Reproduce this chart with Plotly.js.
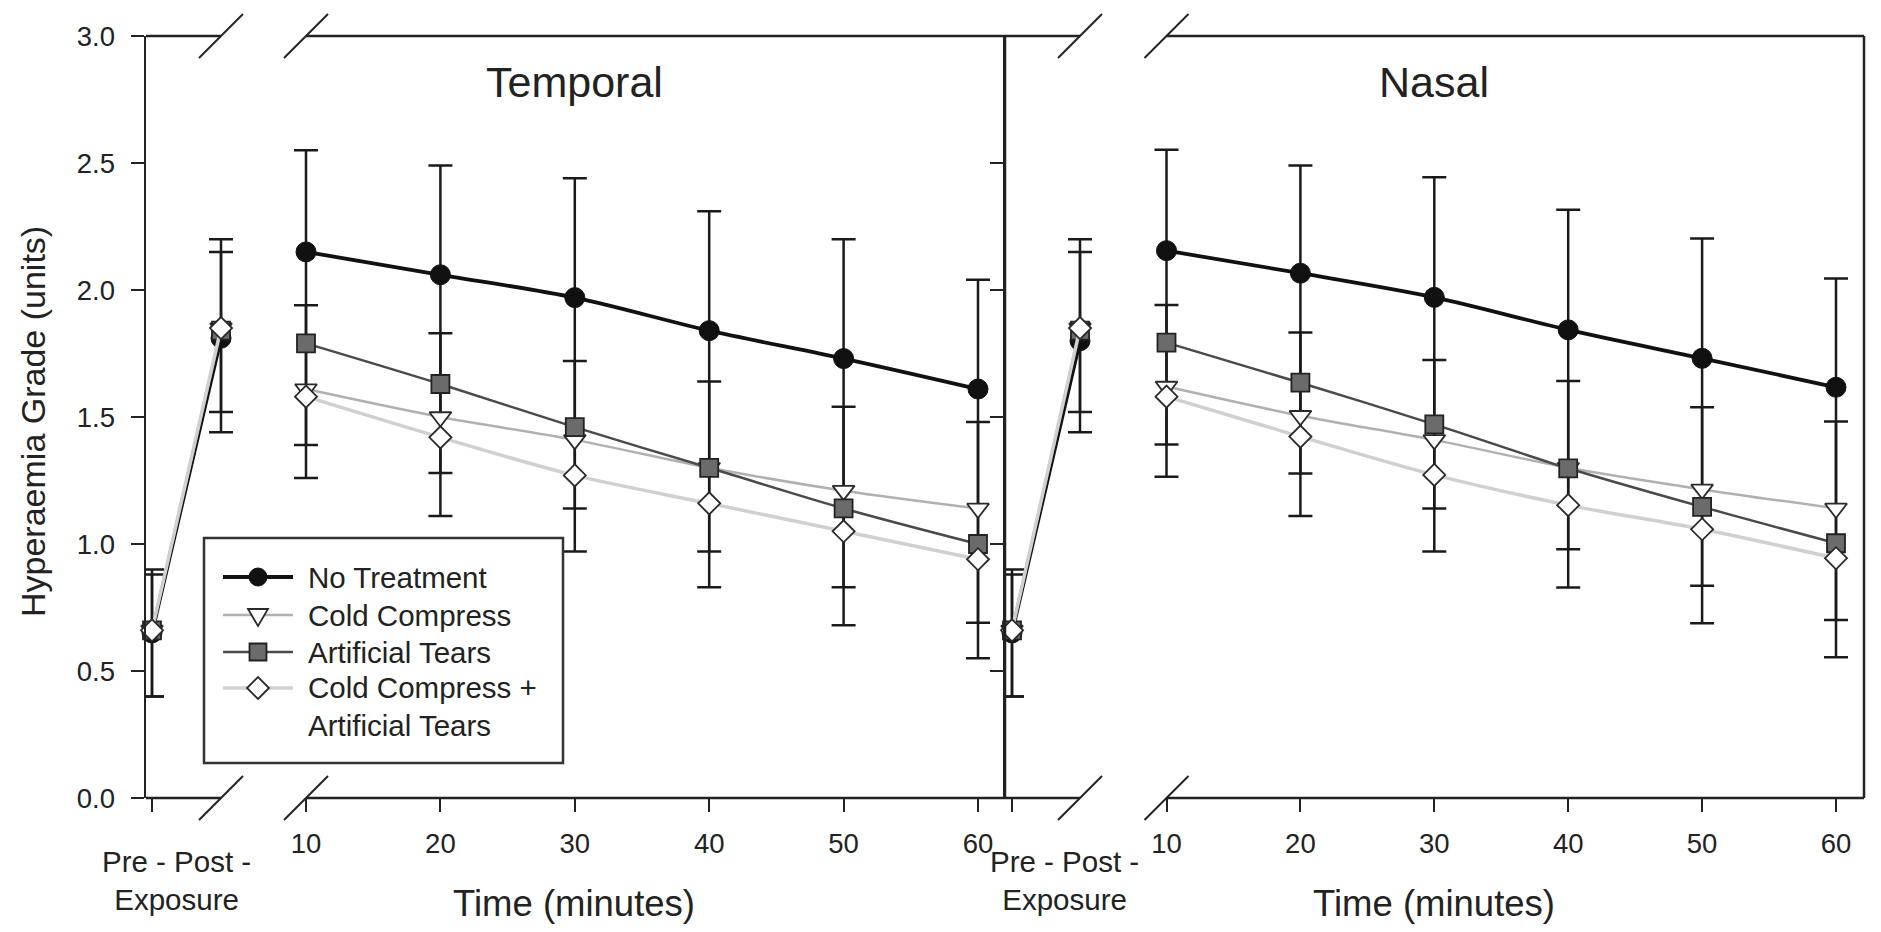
<!DOCTYPE html>
<html>
<head>
<meta charset="utf-8">
<script src="https://cdn.plot.ly/plotly-3.0.1.min.js"></script>
<style>html,body{margin:0;padding:0;background:#fff;}#chart{width:1881px;height:932px;}</style>
</head>
<body>
<div id="chart"></div>
<script>
// ---------------- DATA ----------------
const timePoints = [10, 20, 30, 40, 50, 60];
const exposureLabels = ['Pre', 'Post'];
const seriesNames = ['No Treatment', 'Cold Compress', 'Artificial Tears', 'Cold Compress +<br>Artificial Tears'];
const panelTitles = ['Temporal', 'Nasal'];
const timeAxisTitle = 'Time (minutes)';
const exposureAxisTitle = 'Pre - Post -<br>Exposure';
const yAxisTitle = 'Hyperaemia Grade (units)';

// Temporal – exposure (Pre, Post)
const temporalNoTreatmentExp = [0.65, 1.81];
const temporalColdCompressExp = [0.66, 1.85];
const temporalArtificialTearsExp = [0.66, 1.84];
const temporalCombinedExp = [0.66, 1.85];
// Temporal – recovery (10..60 min)
const temporalNoTreatment = [2.15, 2.06, 1.97, 1.84, 1.73, 1.61];
const temporalColdCompress = [1.61, 1.50, 1.41, 1.30, 1.21, 1.14];
const temporalArtificialTears = [1.79, 1.63, 1.46, 1.30, 1.14, 1.00];
const temporalCombined = [1.58, 1.42, 1.27, 1.16, 1.05, 0.94];
// Temporal – error bar ends
const temporalNoTreatmentExpHigh = [0.90, 2.20];
const temporalNoTreatmentExpLow = [0.40, 1.44];
const temporalColdCompressExpHigh = [0.88, 2.15];
const temporalColdCompressExpLow = [0.40, 1.52];
const temporalNoTreatmentHigh = [2.55, 2.49, 2.44, 2.31, 2.20, 2.04];
const temporalNoTreatmentLow = [1.39, 1.28, 1.14, 0.97, 0.83, 0.69];
const temporalArtificialTearsHigh = [1.94, 1.83, 1.72, 1.64, 1.54, 1.48];
const temporalArtificialTearsLow = [1.26, 1.11, 0.97, 0.83, 0.68, 0.55];

// Nasal – exposure (Pre, Post)
const nasalNoTreatmentExp = [0.65, 1.80];
const nasalColdCompressExp = [0.66, 1.85];
const nasalArtificialTearsExp = [0.66, 1.84];
const nasalCombinedExp = [0.66, 1.85];
// Nasal – recovery
const nasalNoTreatment = [2.155, 2.066, 1.971, 1.843, 1.731, 1.617];
const nasalColdCompress = [1.62, 1.505, 1.41, 1.30, 1.215, 1.14];
const nasalArtificialTears = [1.793, 1.635, 1.471, 1.298, 1.146, 1.003];
const nasalCombined = [1.58, 1.423, 1.272, 1.153, 1.058, 0.944];
// Nasal – error bar ends
const nasalNoTreatmentExpHigh = [0.90, 2.20];
const nasalNoTreatmentExpLow = [0.40, 1.44];
const nasalColdCompressExpHigh = [0.88, 2.15];
const nasalColdCompressExpLow = [0.40, 1.52];
const nasalNoTreatmentHigh = [2.552, 2.49, 2.444, 2.316, 2.203, 2.045];
const nasalNoTreatmentLow = [1.392, 1.278, 1.14, 0.979, 0.836, 0.701];
const nasalArtificialTearsHigh = [1.941, 1.833, 1.724, 1.642, 1.538, 1.482];
const nasalArtificialTearsLow = [1.265, 1.11, 0.97, 0.829, 0.688, 0.554];

const yTicks = [0, 0.5, 1.0, 1.5, 2.0, 2.5, 3.0];

// ---------------- LAYOUT GEOMETRY (pixels) ----------------
const FW = 1881, FH = 932;
const L = 146, R = 1864, T = 36, B = 798;
const PW = R - L, PH = B - T;
const X = px => (px - L) / PW;
const Y = py => (B - py) / PH;
const INK = '#222';
const FONT = 'Liberation Sans, Arial, Helvetica, sans-serif';

// panel pixel anchors
const panels = [
  {axisX: 146, prePx: 152, postPx: 221, expEnd: 250, timeStart: 290, t10: 306, t60: 978, frame: 1005, titleX: 574, expLabelX: 176},
  {axisX: 1005, prePx: 1012, postPx: 1080, expEnd: 1109, timeStart: 1150, t10: 1166.5, t60: 1836, frame: 1864, titleX: 1434, expLabelX: 1064}
];

const styles = [
  {line: {color: '#111', width: 3.8, shape: 'spline', smoothing: 0.9},
   marker: {symbol: 'circle', size: 20, color: '#111', line: {color: '#111', width: 1}}},
  {line: {color: '#b0b0b0', width: 2.5, shape: 'spline', smoothing: 0.9},
   marker: {symbol: 'triangle-down', size: 19, color: '#fff', line: {color: '#2a2a2a', width: 1.8}}},
  {line: {color: '#4a4a4a', width: 2.5, shape: 'spline', smoothing: 0.9},
   marker: {symbol: 'square', size: 18, color: '#6b6b6b', line: {color: '#222', width: 1.8}}},
  {line: {color: '#d0d0d0', width: 3.5, shape: 'spline', smoothing: 0.9},
   marker: {symbol: 'diamond', size: 17, color: '#fff', line: {color: '#2a2a2a', width: 1.8}}}
];

const datasets = [
  {exp: [temporalNoTreatmentExp, temporalColdCompressExp, temporalArtificialTearsExp, temporalCombinedExp],
   time: [temporalNoTreatment, temporalColdCompress, temporalArtificialTears, temporalCombined],
   errExp: [[temporalNoTreatmentExp, temporalNoTreatmentExpHigh, temporalNoTreatmentExpLow],
            [temporalColdCompressExp, temporalColdCompressExpHigh, temporalColdCompressExpLow]],
   errTime: [[temporalNoTreatment, temporalNoTreatmentHigh, temporalNoTreatmentLow],
             [temporalArtificialTears, temporalArtificialTearsHigh, temporalArtificialTearsLow]]},
  {exp: [nasalNoTreatmentExp, nasalColdCompressExp, nasalArtificialTearsExp, nasalCombinedExp],
   time: [nasalNoTreatment, nasalColdCompress, nasalArtificialTears, nasalCombined],
   errExp: [[nasalNoTreatmentExp, nasalNoTreatmentExpHigh, nasalNoTreatmentExpLow],
            [nasalColdCompressExp, nasalColdCompressExpHigh, nasalColdCompressExpLow]],
   errTime: [[nasalNoTreatment, nasalNoTreatmentHigh, nasalNoTreatmentLow],
             [nasalArtificialTears, nasalArtificialTearsHigh, nasalArtificialTearsLow]]}
];

const axisIds = [{xe: 'x', xt: 'x2', y: 'y'}, {xe: 'x3', xt: 'x4', y: 'y2'}];

const traces = [];
datasets.forEach((ds, p) => {
  const ax = axisIds[p];
  // error bars first (below markers)
  const addErr = (xs, xa, triple) => {
    const [vals, hi, lo] = triple;
    traces.push({
      type: 'scatter', mode: 'markers', x: xs, y: vals, xaxis: xa, yaxis: ax.y,
      marker: {size: 1, opacity: 0}, showlegend: false, hoverinfo: 'skip', cliponaxis: false,
      error_y: {type: 'data', symmetric: false,
                array: hi.map((h, i) => h - vals[i]),
                arrayminus: lo.map((l, i) => vals[i] - l),
                color: '#1a1a1a', thickness: 2.5, width: 12}
    });
  };
  ds.errExp.forEach(t => addErr(exposureLabels, ax.xe, t));
  ds.errTime.forEach(t => addErr(timePoints, ax.xt, t));
  // series
  for (let s = 0; s < 4; s++) {
    const st = styles[s];
    traces.push({
      type: 'scatter', mode: 'lines+markers', name: seriesNames[s],
      x: exposureLabels, y: ds.exp[s], xaxis: ax.xe, yaxis: ax.y,
      line: Object.assign({}, st.line, {shape: 'linear'}), marker: st.marker,
      showlegend: false, hoverinfo: 'skip', cliponaxis: false
    });
    traces.push({
      type: 'scatter', mode: 'lines+markers', name: seriesNames[s],
      x: timePoints, y: ds.time[s], xaxis: ax.xt, yaxis: ax.y,
      line: st.line, marker: st.marker,
      showlegend: false, hoverinfo: 'skip', cliponaxis: false
    });
  }
});

// ---------------- AXES ----------------
const tickCommon = {ticks: 'outside', ticklen: 13, tickwidth: 2, tickcolor: INK,
  showgrid: false, zeroline: false, showline: false, fixedrange: true,
  tickfont: {size: 27.5, family: FONT, color: INK}};

function expAxis(pn) {
  const k = pn.postPx - pn.prePx;
  return Object.assign({}, tickCommon, {
    domain: [X(pn.axisX), X(pn.expEnd)], type: 'category', categoryorder: 'array', categoryarray: exposureLabels,
    range: [-(pn.prePx - pn.axisX) / k, 1 + (pn.expEnd - pn.postPx) / k],
    tickmode: 'array', tickvals: [exposureLabels[0]], showticklabels: false
  });
}
function timeAxis(pn) {
  const k = (pn.t60 - pn.t10) / 50;
  return Object.assign({}, tickCommon, {
    domain: [X(pn.timeStart), X(pn.frame)],
    range: [10 - (pn.t10 - pn.timeStart) / k, 60 + (pn.frame - pn.t60) / k],
    tickmode: 'array', tickvals: timePoints, ticktext: timePoints.map(String),
    ticklabelstandoff: 8
  });
}
const yCommon = Object.assign({}, tickCommon, {
  domain: [0, 1], range: [0, 3], tickmode: 'array', tickvals: yTicks,
  ticktext: yTicks.map(v => v.toFixed(1)), showline: true, linewidth: 2.5, linecolor: INK
});

// ---------------- SHAPES ----------------
const shapes = [];
const seg = (x0, y0, x1, y1, w) => shapes.push({type: 'line', xref: 'paper', yref: 'paper',
  x0: X(x0), y0: Y(y0), x1: X(x1), y1: Y(y1), line: {color: INK, width: w || 2.5}, layer: 'above'});
panels.forEach(pn => {
  [B, T].forEach(yy => {
    seg(pn.axisX, yy, pn.postPx, yy);
    seg(pn.t10, yy, pn.frame, yy);
    // break marks
    seg(pn.postPx - 22, yy + 22, pn.postPx + 22, yy - 22, 2);
    seg(pn.t10 - 22, yy + 22, pn.t10 + 22, yy - 22, 2);
  });
  seg(pn.frame, T, pn.frame, B);
});

// ---------------- LEGEND (drawn box) ----------------
const leg = {x0: 204, x1: 563, y0: 538, y1: 763, lineX0: 223, lineX1: 293, symX: 258, textX: 306,
             rows: [577, 615, 652, 688]};
shapes.push({type: 'rect', xref: 'paper', yref: 'paper', x0: X(leg.x0), x1: X(leg.x1), y0: Y(leg.y1), y1: Y(leg.y0),
  fillcolor: '#fff', line: {color: '#333', width: 2.5}, layer: 'above'});
styles.forEach((st, i) => {
  const ry = leg.rows[i];
  shapes.push({type: 'line', xref: 'paper', yref: 'paper', x0: X(leg.lineX0), x1: X(leg.lineX1), y0: Y(ry), y1: Y(ry),
    line: {color: st.line.color, width: st.line.width}, layer: 'above'});
  const base = {xref: 'paper', yref: 'paper', xsizemode: 'pixel', ysizemode: 'pixel',
    xanchor: X(leg.symX), yanchor: Y(ry), fillcolor: st.marker.color,
    line: {color: st.marker.line.color, width: st.marker.line.width}, layer: 'above'};
  if (st.marker.symbol === 'circle') shapes.push(Object.assign({}, base, {type: 'circle', x0: -9, x1: 9, y0: -9, y1: 9}));
  if (st.marker.symbol === 'square') shapes.push(Object.assign({}, base, {type: 'rect', x0: -8.5, x1: 8.5, y0: -8.5, y1: 8.5}));
  if (st.marker.symbol === 'triangle-down') shapes.push(Object.assign({}, base, {type: 'path', path: 'M-10,6 L10,6 L0,-11 Z'}));
  if (st.marker.symbol === 'diamond') shapes.push(Object.assign({}, base, {type: 'path', path: 'M0,-11 L11,0 L0,11 L-11,0 Z'}));
});

// ---------------- ANNOTATIONS ----------------
const annotations = [];
const txt = (text, px, py, size, opts) => annotations.push(Object.assign({
  text: text, xref: 'paper', yref: 'paper', x: X(px), y: Y(py), showarrow: false,
  xanchor: 'center', yanchor: 'middle', font: {family: FONT, size: size, color: INK}}, opts || {}));
panels.forEach((pn, i) => {
  txt(panelTitles[i], pn.titleX, 82, 43);
  txt(timeAxisTitle, pn.titleX, 904, 36.5);
  txt(exposureAxisTitle, pn.expLabelX, 880, 29.5, {align: 'center'});
});
txt(yAxisTitle, 33, 422, 34, {textangle: -90});
seriesNames.forEach((nm, i) => {
  const ry = i < 3 ? leg.rows[i] : (leg.rows[3] + 725) / 2;
  txt(nm, leg.textX, ry, 29.5, {xanchor: 'left', align: 'left'});
});

const layout = {
  width: FW, height: FH, margin: {l: L, r: FW - R, t: T, b: FH - B},
  paper_bgcolor: '#fff', plot_bgcolor: 'rgba(0,0,0,0)', showlegend: false,
  font: {family: FONT, color: INK},
  xaxis: Object.assign(expAxis(panels[0]), {anchor: 'y'}),
  xaxis2: Object.assign(timeAxis(panels[0]), {anchor: 'y'}),
  xaxis3: Object.assign(expAxis(panels[1]), {anchor: 'y2'}),
  xaxis4: Object.assign(timeAxis(panels[1]), {anchor: 'y2'}),
  yaxis: Object.assign({}, yCommon, {anchor: 'x', ticklabelstandoff: 10}),
  yaxis2: Object.assign({}, yCommon, {anchor: 'x3', showticklabels: false}),
  shapes: shapes, annotations: annotations
};

Plotly.newPlot('chart', traces, layout, {staticPlot: true, displayModeBar: false});
</script>
</body>
</html>
